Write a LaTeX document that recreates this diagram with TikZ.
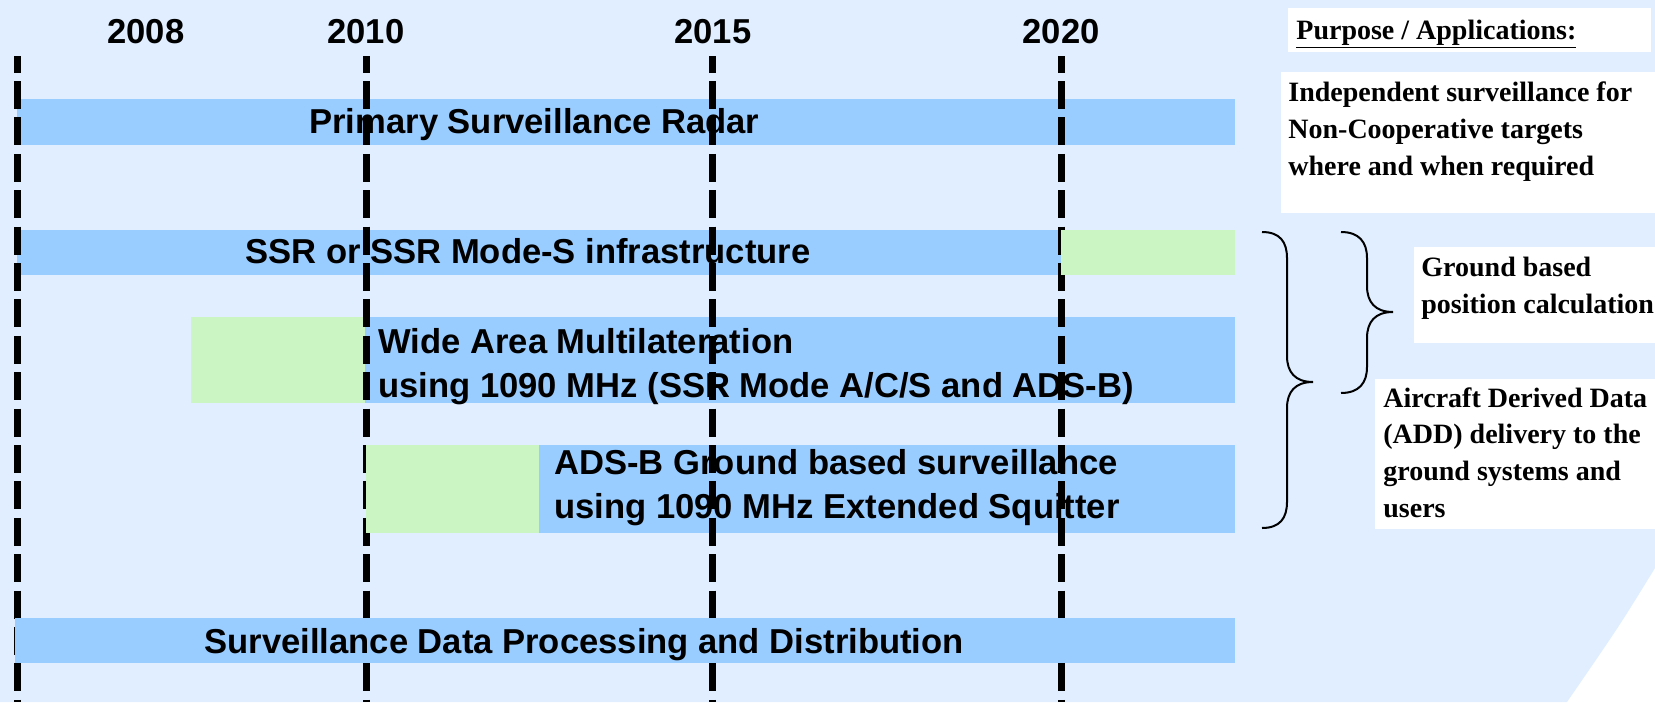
\documentclass[tikz,border=0pt]{standalone}
\usepackage{fontspec}
\setmainfont{Liberation Serif}
\setsansfont{Liberation Sans}
\usepackage{tikz}
\usetikzlibrary{arrows,shapes}
\definecolor{backblue}{RGB}{224,238,255}
\definecolor{barblue}{RGB}{153,204,255}
\definecolor{plangreen}{RGB}{204,245,196}
\tikzstyle{bar}=[fill=barblue]
\tikzstyle{planned}=[fill=plangreen]
\tikzstyle{whitebox}=[fill=white]
\tikzstyle{yearline}=[draw,line width=3.5pt,dash pattern=on 14pt off 4.2pt,dash phase=5.7pt]
\tikzstyle{brace}=[draw,line width=1pt]
\tikzstyle{yearlabel}=[font=\sffamily\bfseries\fontsize{17.3}{20}\selectfont,anchor=base,inner sep=0pt]
\tikzstyle{bartext}=[font=\sffamily\bfseries\fontsize{17.3}{22}\selectfont,anchor=base west,align=left,inner sep=0pt]
\tikzstyle{purpose}=[font=\bfseries\fontsize{14}{18.3}\selectfont,anchor=base west,align=left,inner sep=0pt]

\begin{document}
\begin{tikzpicture}[x=0.5pt,y=-0.5pt]
    \useasboundingbox (0,0) rectangle (1655,702);
    % Background, white corner at the bottom right
    \fill[white] (0,0) rectangle (1655,702);
    \fill[backblue] (0,0) -- (1655,0) -- (1655,568) .. controls (1620,625) .. (1567,702) -- (0,702) -- cycle;

    % First we draw the bars that lie under the year lines
    \fill[bar] (17,99) rectangle (1235,145);
    \fill[bar] (17,230) rectangle (1061,275);
    \fill[bar] (365,317) rectangle (1235,403);
    \fill[planned] (191,317) rectangle (365,403);
    \fill[bar] (539,445) rectangle (1235,533);

    % Then the year lines
    \foreach \x/\yr in {17/2008, 366/2010, 712/2015, 1061/2020}
        \coordinate (top\yr) at (\x,56);
    \foreach \yr in {2008, 2010, 2015, 2020}
        \path[yearline] (top\yr) -- (top\yr |- 0,702);

    % Bars drawn over the year lines
    \fill[planned] (1061,230) rectangle (1235,275);
    \fill[planned] (366,445) rectangle (539,533);
    \fill[bar] (15,618) rectangle (1235,663);

    % Year labels
    \foreach \x/\yr in {146/2008, 366/2010, 713/2015, 1061/2020}
        \node[yearlabel] (year\yr) at (\x,43) {\yr};

    % Texts in the bars (base = last line)
    \node[bartext] (psr) at (309,133) {Primary Surveillance Radar};
    \node[bartext] (ssr) at (245,263) {SSR or SSR Mode-S infrastructure};
    \node[bartext] (wam) at (378,397) {Wide Area Multilateration\\using 1090 MHz (SSR Mode A/C/S and ADS-B)};
    \node[bartext] (adsb) at (554,518) {ADS-B Ground based surveillance\\using 1090 MHz Extended Squitter};
    \node[bartext] (sdpd) at (204,653) {Surveillance Data Processing and Distribution};

    % White boxes on the right
    \fill[whitebox] (1288,8) rectangle (1651,52);
    \fill[whitebox] (1281,72) rectangle (1655,213);
    \fill[whitebox] (1414,247) rectangle (1655,343);
    \fill[whitebox] (1375,379) rectangle (1655,529);

    \node[purpose] (head) at (1296,39) {\underline{Purpose / Applications:}};
    \node[purpose] (indep) at (1288,175) {Independent surveillance for\\Non-Cooperative targets\\where and when required};
    \node[purpose] (ground) at (1421,313) {Ground based\\position calculation};
    \node[purpose] (add) at (1383,517) {Aircraft Derived Data\\(ADD) delivery to the\\ground systems and\\users};

    % Braces
    \path[brace] (1262,232) .. controls (1280,232) and (1287,242) .. (1287,258) -- (1287,356)
        .. controls (1287,372) and (1295,382) .. (1313,382)
        .. controls (1295,382) and (1287,392) .. (1287,408) -- (1287,502)
        .. controls (1287,518) and (1280,528) .. (1262,528);
    \path[brace] (1341,232) .. controls (1359,232) and (1367,242) .. (1367,258) -- (1367,286)
        .. controls (1367,302) and (1375,312) .. (1393,312)
        .. controls (1375,312) and (1367,322) .. (1367,338) -- (1367,367)
        .. controls (1367,383) and (1359,393) .. (1341,393);
\end{tikzpicture}
\end{document}
